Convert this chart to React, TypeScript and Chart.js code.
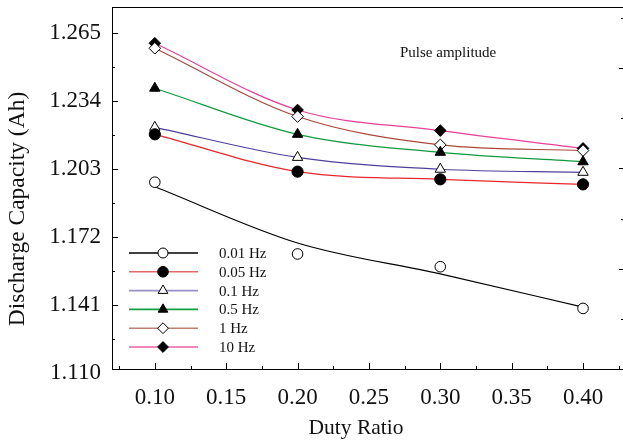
import React, { useEffect, useRef } from 'react';
import { Chart, registerables } from 'chart.js';

Chart.register(...registerables);

// ---- data ----
const dutyRatios = [0.1, 0.2, 0.3, 0.4];
const seriesNames = ['0.01 Hz', '0.05 Hz', '0.1 Hz', '0.5 Hz', '1 Hz', '10 Hz'];
const cap001Hz = [1.197, 1.1643, 1.1585, 1.1395];
const cap005Hz = [1.2188, 1.2018, 1.1983, 1.196];
const cap01Hz = [1.222, 1.2083, 1.2029, 1.2015];
const cap05Hz = [1.2398, 1.2188, 1.2106, 1.2063];
const cap1Hz = [1.258, 1.2269, 1.214, 1.2114];
const cap10Hz = [1.2603, 1.2299, 1.2205, 1.2124];
// fitted curve drawn for the 0.01 Hz series (does not pass through the markers)
const fit001Hz = [1.1949, 1.1693, 1.1552, 1.1401];

const yTickValues = [1.11, 1.141, 1.172, 1.203, 1.234, 1.265];
const yMinorTickValues = [1.1255, 1.1565, 1.1875, 1.2185, 1.2495];
const xTickValues = [0.1, 0.15, 0.2, 0.25, 0.3, 0.35, 0.4];
const xMinorTickValues = [0.075, 0.125, 0.175, 0.225, 0.275, 0.325, 0.375, 0.425];
const rightTickValues = [1, 2, 3, 4, 5, 6, 7];
const annotationText = 'Pulse amplitude';
const xTitle = 'Duty Ratio';
const yTitle = 'Discharge Capacity (Ah)';

// ---- styles ----
const FONT = "'Liberation Serif', 'Times New Roman', serif";
const seriesValues = [cap001Hz, cap005Hz, cap01Hz, cap05Hz, cap1Hz, cap10Hz];
const lineColors = ['#000000', '#e8262c', '#4e3f9c', '#109a3e', '#a84838', '#e8409a'];
const legendLineColors = ['#000000', '#e06a6a', '#9a90c8', '#10a040', '#c08070', '#e860a8'];
const markerStyles = ['circle', 'circle', 'triangle', 'triangle', 'rectRot', 'rectRot'];
const markerFilled = [false, true, false, true, false, true];
const markerRadius = [5.3, 5.6, 6, 6, 5.8, 5.8];
const legendMarkerRadius = [5, 5.3, 5.6, 5.6, 5.4, 5.4];

function drawMarker(ctx: CanvasRenderingContext2D, style: string, filled: boolean, x: number, y: number, r: number) {
  ctx.beginPath();
  if (style === 'circle') {
    ctx.arc(x, y, r, 0, Math.PI * 2);
  } else if (style === 'triangle') {
    for (let i = 0; i < 3; i++) {
      const a = (i * 2 * Math.PI) / 3;
      const px = x + Math.sin(a) * r;
      const py = y - Math.cos(a) * r;
      if (i === 0) ctx.moveTo(px, py);
      else ctx.lineTo(px, py);
    }
  } else {
    ctx.moveTo(x, y - r);
    ctx.lineTo(x + r, y);
    ctx.lineTo(x, y + r);
    ctx.lineTo(x - r, y);
  }
  ctx.closePath();
  ctx.fillStyle = filled ? '#000' : '#fff';
  ctx.fill();
  ctx.lineWidth = 1;
  ctx.strokeStyle = '#000';
  ctx.stroke();
}

const framePlugin = {
  id: 'frameTicks',
  afterDraw(chart: any) {
    const { ctx, chartArea } = chart;
    const { left, right, top, bottom } = chartArea;
    const xs = chart.scales.x;
    const ys = chart.scales.y;
    const y2 = chart.scales.y2;
    ctx.save();
    ctx.strokeStyle = '#000';
    ctx.lineWidth = 1;
    ctx.beginPath();
    ctx.moveTo(left, Math.round(top) + 0.5);
    ctx.lineTo(right, Math.round(top) + 0.5);
    xTickValues.forEach((v) => {
      const px = Math.round(xs.getPixelForValue(v)) + 0.5;
      ctx.moveTo(px, bottom);
      ctx.lineTo(px, bottom - 6);
    });
    xMinorTickValues.forEach((v) => {
      const px = Math.round(xs.getPixelForValue(v)) + 0.5;
      if (px > right) return;
      ctx.moveTo(px, bottom);
      ctx.lineTo(px, bottom - 3);
    });
    yTickValues.forEach((v) => {
      const py = Math.round(ys.getPixelForValue(v)) + 0.5;
      if (py > bottom - 1) return;
      ctx.moveTo(left, py);
      ctx.lineTo(left + 6, py);
    });
    yMinorTickValues.forEach((v) => {
      const py = Math.round(ys.getPixelForValue(v)) + 0.5;
      ctx.moveTo(left, py);
      ctx.lineTo(left + 3, py);
    });
    rightTickValues.forEach((v) => {
      const py = Math.round(y2.getPixelForValue(v)) + 0.5;
      const len = v % 2 === 0 ? 4 : 2;
      ctx.moveTo(right, py);
      ctx.lineTo(right - len, py);
    });
    ctx.stroke();

    // legend
    const lx0 = left + 17;
    const lx1 = left + 86;
    const mx = left + 51;
    const tx = left + 107;
    const ly0 = top + 246;
    const step = 18.8;
    ctx.font = `15px ${FONT}`;
    ctx.textBaseline = 'middle';
    ctx.textAlign = 'left';
    seriesNames.forEach((name, i) => {
      const ly = ly0 + i * step;
      ctx.beginPath();
      ctx.strokeStyle = legendLineColors[i];
      ctx.lineWidth = 1.6;
      ctx.moveTo(lx0, ly);
      ctx.lineTo(lx1, ly);
      ctx.stroke();
      drawMarker(ctx, markerStyles[i], markerFilled[i], mx, ly, legendMarkerRadius[i]);
      ctx.fillStyle = '#111';
      ctx.fillText(name, tx, ly + 1);
    });

    // annotation
    ctx.font = `15px ${FONT}`;
    ctx.fillStyle = '#111';
    ctx.fillText(annotationText, left + 288, top + 46);

    // x axis title
    ctx.font = `21.5px ${FONT}`;
    ctx.textAlign = 'center';
    ctx.textBaseline = 'middle';
    ctx.fillText(xTitle, left + 244, bottom + 59);

    // y axis title
    ctx.save();
    ctx.translate(18, (top + bottom) / 2 + 21);
    ctx.rotate(-Math.PI / 2);
    ctx.font = `23.5px ${FONT}`;
    ctx.textAlign = 'center';
    ctx.textBaseline = 'middle';
    ctx.fillStyle = '#111';
    ctx.fillText(yTitle, 0, 0);
    ctx.restore();

    ctx.restore();
  },
};

export default function App() {
  const canvasRef = useRef<HTMLCanvasElement | null>(null);

  useEffect(() => {
    document.body.style.margin = '0';
    const canvas = canvasRef.current;
    if (!canvas) return;

    const lineSets = seriesValues.map((vals, i) => ({
      label: seriesNames[i] + ' line',
      data: (i === 0 ? fit001Hz : vals).map((v, j) => ({ x: dutyRatios[j], y: v })),
      borderColor: lineColors[i],
      borderWidth: 1.2,
      pointRadius: 0,
      cubicInterpolationMode: 'monotone' as const,
      fill: false,
      order: 2,
    }));
    const markerSets = seriesValues.map((vals, i) => ({
      label: seriesNames[i],
      data: vals.map((v, j) => ({ x: dutyRatios[j], y: v })),
      showLine: false,
      pointStyle: markerStyles[i],
      pointRadius: markerRadius[i],
      pointBackgroundColor: markerFilled[i] ? '#000' : '#fff',
      pointBorderColor: '#000',
      pointBorderWidth: 1,
      order: 1,
    }));

    const chart = new Chart(canvas, {
      type: 'line',
      data: { datasets: [...lineSets, ...markerSets] as any },
      options: {
        animation: false,
        responsive: false,
        devicePixelRatio: 1,
        events: [],
        layout: { autoPadding: false, padding: { top: 7, right: 0, left: 0, bottom: 0 } },
        plugins: { legend: { display: false }, tooltip: { enabled: false } },
        scales: {
          x: {
            type: 'linear',
            min: 0.07,
            max: 0.428,
            afterBuildTicks: (axis: any) => {
              axis.ticks = xTickValues.map((v) => ({ value: v }));
            },
            afterFit: (scale: any) => {
              scale.height = 74;
              scale.paddingLeft = 0;
              scale.paddingRight = 0;
            },
            grid: { display: false, drawTicks: false },
            border: { display: true, color: '#000', width: 1 },
            ticks: {
              padding: 15,
              color: '#111',
              font: { family: FONT, size: 23 },
              callback: (v: any) => Number(v).toFixed(2),
              maxRotation: 0,
              autoSkip: false,
            },
            title: { display: false },
          },
          y: {
            type: 'linear',
            min: 1.1119,
            max: 1.2768,
            afterBuildTicks: (axis: any) => {
              axis.ticks = yTickValues.map((v) => ({ value: v }));
            },
            afterFit: (scale: any) => {
              scale.width = 112;
              scale.paddingTop = 0;
              scale.paddingBottom = 0;
            },
            grid: { display: false, drawTicks: false },
            border: { display: true, color: '#000', width: 1 },
            ticks: {
              padding: 11,
              color: '#111',
              font: { family: FONT, size: 23 },
              callback: (v: any) => Number(v).toFixed(3),
              autoSkip: false,
            },
            title: { display: false },
          },
          y2: {
            type: 'linear',
            display: false,
            position: 'right',
            min: 0,
            max: 7.22,
          },
        },
      },
      plugins: [framePlugin],
    });

    return () => chart.destroy();
  }, []);

  return (
    <div style={{ width: 623, height: 443 }}>
      <canvas ref={canvasRef} width={623} height={443} style={{ display: 'block', width: 623, height: 443 }} />
    </div>
  );
}
